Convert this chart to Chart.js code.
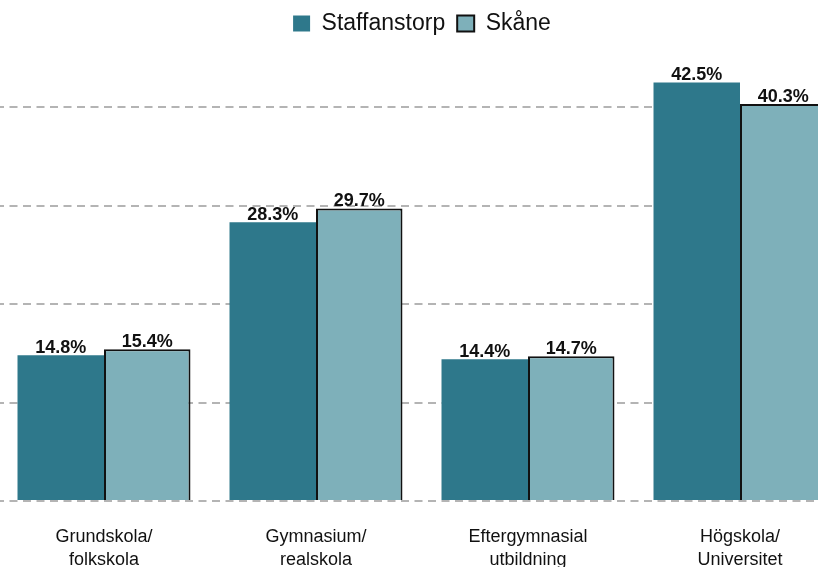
<!DOCTYPE html>
<html>
<head>
<meta charset="utf-8">
<script src="https://cdn.jsdelivr.net/npm/chart.js@4"></script>
<style>
  html, body { margin: 0; padding: 0; background: #fff; overflow: hidden; width: 818px; height: 567px; }
  #wrap { position: absolute; left: -2px; top: 0; }
</style>
</head>
<body>
<div id="wrap"><canvas id="myChart" width="848" height="596"></canvas></div>
<script>
// categories (two lines each)
const categories = [
  ["Grundskola/", "folkskola"],
  ["Gymnasium/", "realskola"],
  ["Eftergymnasial", "utbildning"],
  ["Högskola/", "Universitet"],
];
// share of population, percent
const staffanstorp = [14.8, 28.3, 14.4, 42.5];
const skane = [15.4, 29.7, 14.7, 40.3];

const FONT = "'Liberation Sans', Arial, sans-serif";

// draw the value on top of each bar
const barLabels = {
  id: "barLabels",
  afterDatasetsDraw(chart) {
    const ctx = chart.ctx;
    ctx.save();
    ctx.font = "bold 18px " + FONT;
    ctx.fillStyle = "#111";
    ctx.textAlign = "center";
    ctx.textBaseline = "alphabetic";
    chart.data.datasets.forEach((ds, i) => {
      const meta = chart.getDatasetMeta(i);
      meta.data.forEach((bar, j) => {
        ctx.fillText(ds.data[j].toFixed(1) + "%", bar.x, bar.y - 2.5);
      });
    });
    ctx.restore();
  },
};

const ctx = document.getElementById("myChart").getContext("2d");
const myChart = new Chart(ctx, {
  type: "bar",
  data: {
    labels: categories,
    datasets: [
      {
        label: "Staffanstorp",
        data: staffanstorp,
        backgroundColor: "rgb(46, 120, 139)",
        borderWidth: 0,
      },
      {
        label: "Skåne",
        data: skane,
        backgroundColor: "rgb(126, 176, 186)",
        borderColor: "#111",
        borderWidth: 2,
      },
    ],
  },
  options: {
    responsive: false,
    animation: false,
    layout: { padding: 0 },
    datasets: {
      bar: { categoryPercentage: 0.816, barPercentage: 1 },
    },
    plugins: {
      legend: {
        position: "top",
        labels: {
          font: { family: FONT, size: 23 },
          color: "#111",
          boxWidth: 17,
          boxHeight: 16,
          padding: 12,
        },
      },
      tooltip: { enabled: false },
    },
    scales: {
      x: {
        grid: { display: false, drawTicks: false },
        border: { display: false },
        ticks: {
          font: { family: FONT, size: 18, lineHeight: 1.25 },
          color: "#111",
          padding: 25,
          maxRotation: 0,
        },
      },
      y: {
        min: 0,
        max: 46.3,
        afterBuildTicks: (s) => {
          s.ticks = s.ticks.filter((t) => t.value % 10 === 0);
        },
        ticks: { display: false, stepSize: 10 },
        // dashed grid
        border: { display: false, dash: [8, 5.5], dashOffset: 2 },
        grid: {
          drawTicks: false,
          color: "#b4b4b4",
          lineWidth: 2,
        },
      },
    },
  },
  plugins: [barLabels],
});
</script>
</body>
</html>
